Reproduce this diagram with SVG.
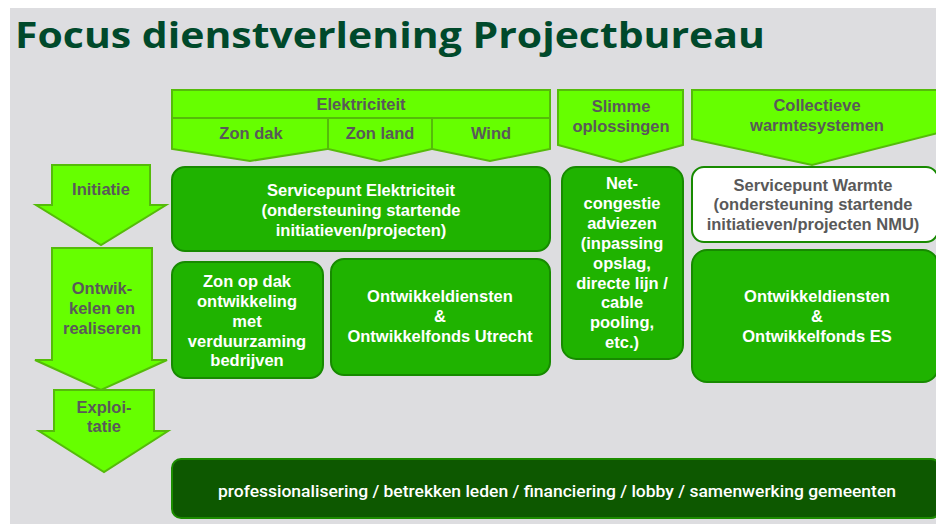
<svg xmlns="http://www.w3.org/2000/svg" width="936" height="524" viewBox="0 0 936 524">
<defs>
<style>
.bright{fill:#66ff00;stroke:#55bb0a;stroke-width:2;stroke-linejoin:miter}
.box{fill:#1fb300;stroke:#178a00;stroke-width:2}
.wbox{fill:#ffffff;stroke:#178a00;stroke-width:2}
.dbox{fill:#0d5800;stroke:#1c8c00;stroke-width:2}
.gt{font-family:"Liberation Sans",Arial,sans-serif;font-weight:bold;font-size:16.5px;fill:#595959;text-anchor:middle}
.wt{font-family:"Liberation Sans",Arial,sans-serif;font-weight:bold;font-size:16.5px;fill:#ffffff;text-anchor:middle}
</style>
</defs>
<rect x="0" y="0" width="936" height="524" fill="#ffffff"/>
<rect x="10" y="8" width="926" height="516" fill="#dddde0"/>
<text id="title" x="15" y="48" font-family="'Open Sans','Liberation Sans',sans-serif" font-weight="bold" font-size="36" fill="#00492b" textLength="750" lengthAdjust="spacingAndGlyphs">Focus dienstverlening Projectbureau</text>

<g id="elektriciteit">
<rect class="bright" x="172" y="90" width="378" height="28"/>
<text class="gt" x="361" y="110">Elektriciteit</text>
</g>
<g id="zon-dak">
<polygon class="bright" points="172,118 328,118 328,149 250,161 172,149"/>
<text class="gt" x="251" y="139">Zon dak</text>
</g>
<g id="zon-land">
<polygon class="bright" points="328,118 432,118 432,149 380,161 328,149"/>
<text class="gt" x="380" y="139">Zon land</text>
</g>
<g id="wind">
<polygon class="bright" points="432,118 550,118 550,149 490,161 432,149"/>
<text class="gt" x="491" y="139">Wind</text>
</g>
<g id="slimme">
<polygon class="bright" points="558,90 683,90 683,145 621,162 558,145"/>
<text class="gt" x="621" y="112">Slimme</text>
<text class="gt" x="621" y="132">oplossingen</text>
</g>
<g id="collectieve">
<polygon class="bright" points="692,90 942,90 942,132 812,165 692,139"/>
<text class="gt" x="817" y="111">Collectieve</text>
<text class="gt" x="817" y="131">warmtesystemen</text>
</g>

<g id="initiatie">
<polygon class="bright" points="52,165 150,165 150,205 166,205 101,245 36,205 52,205"/>
<text class="gt" x="101" y="195">Initiatie</text>
</g>
<g id="ontwikkelen">
<polygon class="bright" points="52,248 152,248 152,360 167,360 101,390 35,360 52,360"/>
<text class="gt" x="102" y="294">Ontwik-</text>
<text class="gt" x="102" y="314">kelen en</text>
<text class="gt" x="102" y="334">realiseren</text>
</g>
<g id="exploitatie">
<polygon class="bright" points="54,390 154,390 154,431 168,431 104,472 39,431 54,431"/>
<text class="gt" x="104" y="413">Exploi-</text>
<text class="gt" x="104" y="432">tatie</text>
</g>

<g id="servicepunt-elektriciteit">
<rect class="box" x="172" y="167" width="378" height="84" rx="13"/>
<text class="wt" x="361" y="196">Servicepunt Elektriciteit</text>
<text class="wt" x="361" y="216">(ondersteuning startende</text>
<text class="wt" x="361" y="236">initiatieven/projecten)</text>
</g>
<g id="zon-op-dak">
<rect class="box" x="172" y="262" width="151" height="116" rx="13"/>
<text class="wt" x="247" y="287">Zon op dak</text>
<text class="wt" x="247" y="307">ontwikkeling</text>
<text class="wt" x="247" y="327">met</text>
<text class="wt" x="247" y="347">verduurzaming</text>
<text class="wt" x="247" y="366">bedrijven</text>
</g>
<g id="ontwikkel-utrecht">
<rect class="box" x="331" y="259" width="219" height="116" rx="13"/>
<text class="wt" x="440" y="302">Ontwikkeldiensten</text>
<text class="wt" x="440" y="322">&amp;</text>
<text class="wt" x="440" y="342">Ontwikkelfonds Utrecht</text>
</g>
<g id="netcongestie">
<rect class="box" x="562" y="167" width="121" height="192" rx="14"/>
<text class="wt" x="622" y="189">Net-</text>
<text class="wt" x="622" y="209">congestie</text>
<text class="wt" x="622" y="229">adviezen</text>
<text class="wt" x="622" y="249">(inpassing</text>
<text class="wt" x="622" y="269">opslag,</text>
<text class="wt" x="622" y="289">directe lijn /</text>
<text class="wt" x="622" y="308">cable</text>
<text class="wt" x="622" y="328">pooling,</text>
<text class="wt" x="622" y="348">etc.)</text>
</g>
<g id="servicepunt-warmte">
<rect class="wbox" x="692" y="167" width="246" height="75" rx="12"/>
<text class="gt" x="813" y="191">Servicepunt Warmte</text>
<text class="gt" x="813" y="210">(ondersteuning startende</text>
<text class="gt" x="813" y="230">initiatieven/projecten NMU)</text>
</g>
<g id="ontwikkel-es">
<rect class="box" x="692" y="250" width="246" height="132" rx="15"/>
<text class="wt" x="817" y="302">Ontwikkeldiensten</text>
<text class="wt" x="817" y="322">&amp;</text>
<text class="wt" x="817" y="342">Ontwikkelfonds ES</text>
</g>
<g id="bottom-bar">
<rect class="dbox" x="172" y="459" width="768" height="59" rx="9"/>
<text x="557" y="497" font-family="Roboto,'Liberation Sans',sans-serif" font-weight="500" font-size="17" fill="#ffffff" text-anchor="middle" textLength="678" lengthAdjust="spacingAndGlyphs">professionalisering / betrekken leden / financiering / lobby / samenwerking gemeenten</text>
</g>
<g id="connectors"></g>
</svg>
